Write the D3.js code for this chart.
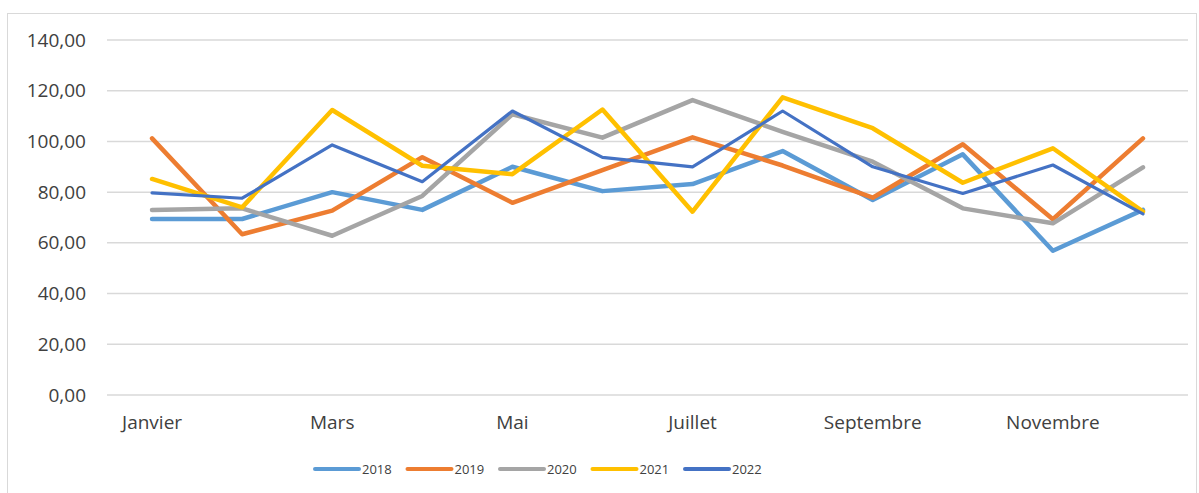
<!DOCTYPE html>
<html><head><meta charset="utf-8">
<script src="https://cdn.jsdelivr.net/npm/d3@7"></script>
<style>html,body{margin:0;padding:0;background:#fff;} svg{display:block;}</style>
</head><body>
<svg id="chart" width="1199" height="493"></svg>
<script>
const months = ["Janvier","Février","Mars","Avril","Mai","Juin","Juillet","Août","Septembre","Octobre","Novembre","Décembre"];
const yTicks = [0,20,40,60,80,100,120,140];
const years = ["2018","2019","2020","2021","2022"];
const v2018 = [69.4,69.4,80.0,73.0,90.0,80.4,83.2,96.2,76.9,94.9,56.9,73.0];
const v2019 = [101.2,63.4,72.7,93.8,75.8,88.7,101.6,90.5,77.8,98.9,69.3,101.2];
const v2020 = [73.0,73.6,62.8,78.5,110.7,101.5,116.3,103.8,92.0,73.6,67.7,89.8];
const v2021 = [85.2,74.0,112.4,90.4,87.1,112.6,72.3,117.4,105.2,83.7,97.3,72.3];
const v2022 = [79.7,77.6,98.6,84.1,112.0,93.7,90.0,112.0,90.0,79.5,90.7,71.4];
const seriesValues = [v2018,v2019,v2020,v2021,v2022];
const colors = ["#5B9BD5","#ED7D31","#A5A5A5","#FFC000","#4472C4"];
const widths = [4.5,4.5,4.5,4.5,3.2];

const svg = d3.select("#chart");
svg.append("rect").attr("x",7.5).attr("y",13.5).attr("width",1189).attr("height",500)
  .attr("fill","#fff").attr("stroke","#d9d9d9").attr("stroke-width",1);

const x = d3.scaleBand().domain(months).range([107,1188]);
const y = d3.scaleLinear().domain([0,140]).range([395,40]);
const font = "'Open Sans', sans-serif";

// gridlines
svg.append("g").selectAll("line").data(yTicks).join("line")
  .attr("x1",107).attr("x2",1188)
  .attr("y1",d=>y(d)).attr("y2",d=>y(d))
  .attr("stroke","#d9d9d9").attr("stroke-width",1.5);

// y axis labels
const yAxis = d3.axisLeft(y).tickValues(yTicks).tickSize(0).tickPadding(0)
  .tickFormat(d=>d3.format(".2f")(d).replace(".",","));
const gy = svg.append("g").attr("transform","translate(86,0)").call(yAxis);
gy.select(".domain").remove();
gy.selectAll("text").attr("font-family",font).attr("font-size",19).attr("fill","#404040");

// x axis labels (every other)
const xAxis = d3.axisBottom(x).tickSize(0).tickPadding(0)
  .tickFormat((d,i)=> i%2===0 ? d : "");
const gx = svg.append("g").attr("transform","translate(0,415)").call(xAxis);
gx.select(".domain").remove();
gx.selectAll("text").attr("font-family",font).attr("font-size",19).attr("fill","#404040");

// lines
const line = d3.line().x((d,i)=>x(months[i])+x.bandwidth()/2).y(d=>y(d));
svg.append("g").selectAll("path").data(seriesValues).join("path")
  .attr("d",d=>line(d)).attr("fill","none")
  .attr("stroke",(d,i)=>colors[i]).attr("stroke-width",(d,i)=>widths[i])
  .attr("stroke-linejoin","round").attr("stroke-linecap","round");

// legend
const lg = svg.append("g").selectAll("g").data(years).join("g")
  .attr("transform",(d,i)=>`translate(${315+i*92.5},469)`);
lg.append("line").attr("x1",0).attr("x2",44).attr("y1",0).attr("y2",0)
  .attr("stroke",(d,i)=>colors[i]).attr("stroke-width",4).attr("stroke-linecap","round");
lg.append("text").attr("x",47).attr("y",5).text(d=>d)
  .attr("font-family",font).attr("font-size",13).attr("fill","#404040");
</script>
</body></html>
